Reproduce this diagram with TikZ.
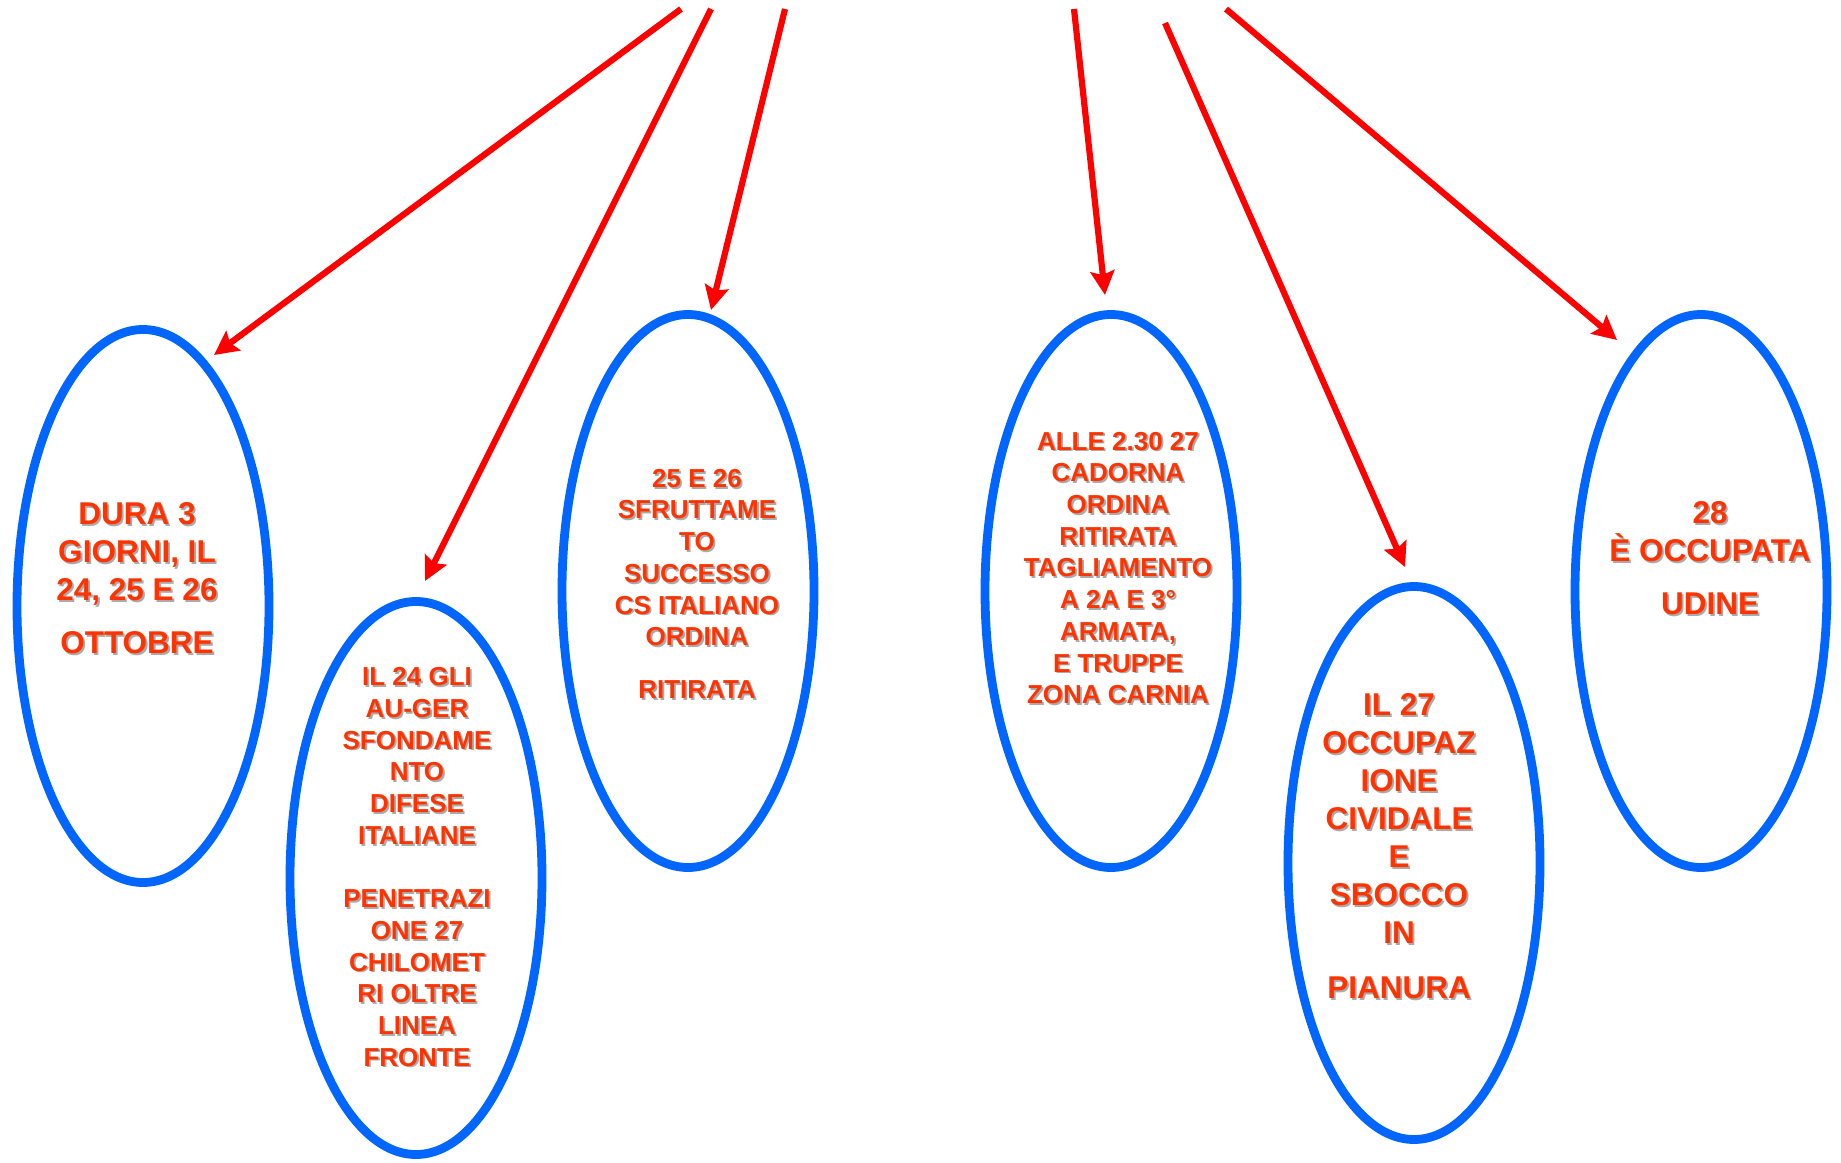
\documentclass[tikz,border=0pt]{standalone}
\usepackage{fontspec}
\setmainfont{Liberation Sans}
\usetikzlibrary{arrows.meta,shapes.geometric}

\definecolor{ovalblue}{RGB}{0,102,255}
\definecolor{arrowred}{RGB}{255,0,0}
\definecolor{textred}{RGB}{255,51,0}
\definecolor{shade}{RGB}{170,170,170}

\tikzset{
  oval/.style={draw=ovalblue, line width=4.4pt, ellipse, inner sep=0pt,
    minimum width=126pt, minimum height=276.5pt},
  pointer/.style={draw=arrowred, line width=3.1pt,
    -{Stealth[length=12pt,width=12pt,inset=2pt]}},
  bigtxt/.style={align=center, inner sep=0pt, text=textred,
    font=\bfseries\fontsize{15.75}{19}\selectfont},
  smalltxt/.style={align=center, inner sep=0pt, text=textred,
    font=\bfseries\fontsize{13}{15.85}\selectfont},
  shadowed/.style={text=shade, xshift=0.9pt, yshift=-0.9pt},
}

% text with a soft grey drop shadow: name, position, style, content
\newcommand\castlabel[4]{%
  \node[#3,shadowed] (#1s) at (#2) {#4};
  \node[#3] (#1) at (#2) {#4};}

\begin{document}
\begin{tikzpicture}[x=0.5pt,y=-0.5pt]
\useasboundingbox (0,0) rectangle (1841,1162);

% ovals
\node[oval] (o1) at (143,606) {};
\node[oval] (o2) at (416,878) {};
\node[oval] (o3) at (688,591) {};
\node[oval] (o4) at (1111,591) {};
\node[oval] (o5) at (1414,863) {};
\node[oval] (o6) at (1701,591) {};

% arrow ends
\coordinate (s1) at (681,9);   \coordinate (t1) at (214,355);
\coordinate (s2) at (711,9);   \coordinate (t2) at (425,581);
\coordinate (s3) at (785,9);   \coordinate (t3) at (711,310);
\coordinate (s4) at (1074,9);  \coordinate (t4) at (1105,295);
\coordinate (s5) at (1165,23); \coordinate (t5) at (1405,567);
\coordinate (s6) at (1226,9);  \coordinate (t6) at (1617,340);

\draw[pointer] (s1) -- (t1);
\draw[pointer] (s2) -- (t2);
\draw[pointer] (s3) -- (t3);
\draw[pointer] (s4) -- (t4);
\draw[pointer] (s5) -- (t5);
\draw[pointer] (s6) -- (t6);

% labels
\castlabel{l1}{137,578}{bigtxt}{DURA 3\\GIORNI, IL\\24, 25 E 26\\[7.5pt]OTTOBRE}
\castlabel{l2}{417,867}{smalltxt}{IL 24 GLI\\AU-GER\\SFONDAME\\NTO\\DIFESE\\ITALIANE\\[15.85pt]PENETRAZI\\ONE 27\\CHILOMET\\RI OLTRE\\LINEA\\FRONTE}
\castlabel{l3}{697,584}{smalltxt}{25 E 26\\SFRUTTAME\\TO\\SUCCESSO\\CS ITALIANO\\ORDINA\\[10.7pt]RITIRATA}
\castlabel{l4}{1118,568}{smalltxt}{ALLE 2.30 27\\CADORNA\\ORDINA\\RITIRATA\\TAGLIAMENTO\\A 2A E 3°\\ARMATA,\\E TRUPPE\\ZONA CARNIA}
\castlabel{l5}{1399,846}{bigtxt}{IL 27\\OCCUPAZ\\IONE\\CIVIDALE\\E\\SBOCCO\\IN\\[8.5pt]PIANURA}
\castlabel{l6}{1710,558}{bigtxt}{28\\È OCCUPATA\\[7.5pt]UDINE}
\end{tikzpicture}
\end{document}
